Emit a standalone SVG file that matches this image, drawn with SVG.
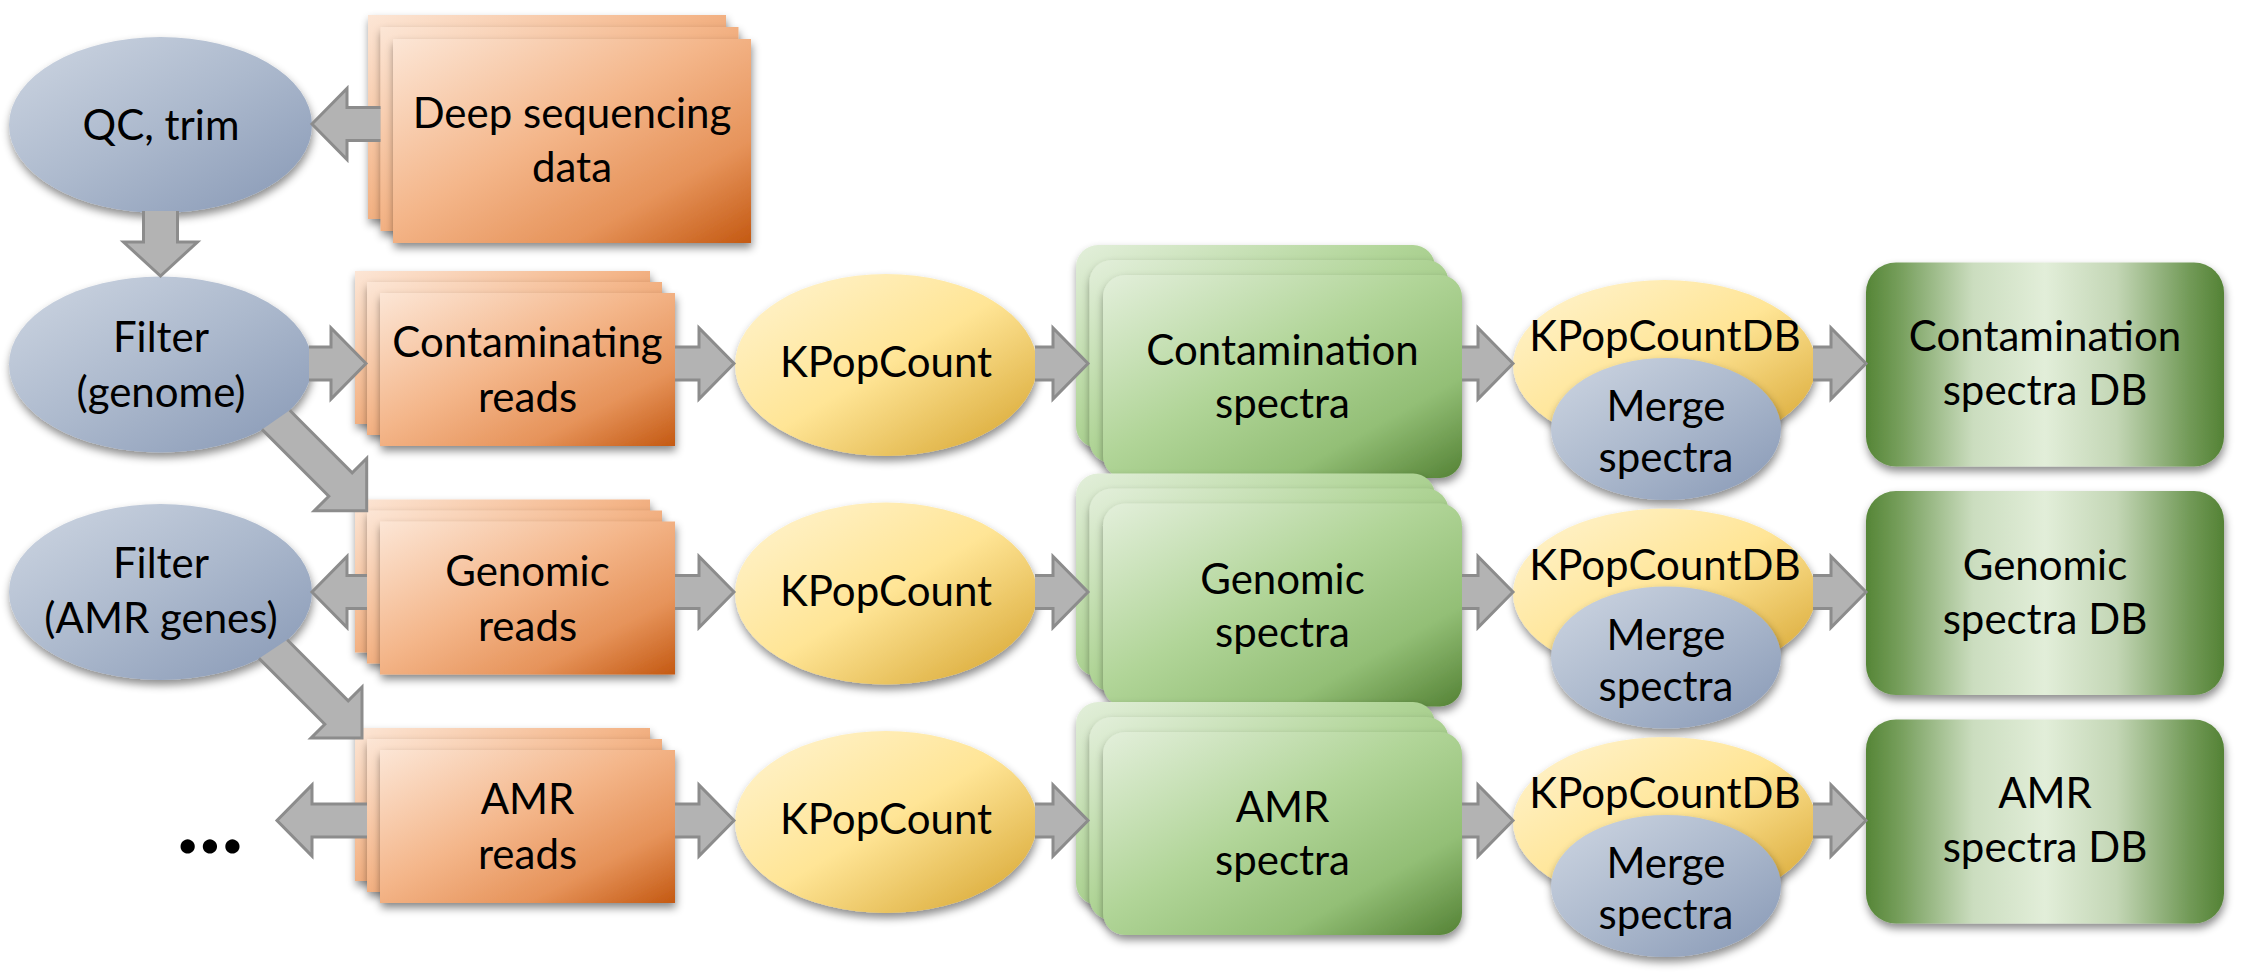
<svg xmlns="http://www.w3.org/2000/svg" width="2244" height="976" viewBox="0 0 2244 976">
<defs>
<linearGradient id="gBlue" x1="0" y1="0" x2="1" y2="1">
<stop offset="0" stop-color="#ced6e2"/><stop offset="0.5" stop-color="#acb9cd"/><stop offset="1" stop-color="#8798b5"/>
</linearGradient>
<linearGradient id="gOrange" x1="0" y1="0" x2="1" y2="1">
<stop offset="0" stop-color="#fce6d6"/><stop offset="0.45" stop-color="#f4b68a"/><stop offset="0.75" stop-color="#e6935a"/><stop offset="1" stop-color="#c45912"/>
</linearGradient>
<linearGradient id="gYellow" x1="0" y1="0" x2="1" y2="1">
<stop offset="0" stop-color="#fff4d2"/><stop offset="0.5" stop-color="#ffe596"/><stop offset="1" stop-color="#d4a12a"/>
</linearGradient>
<linearGradient id="gGreen" x1="0" y1="0" x2="1" y2="1">
<stop offset="0" stop-color="#e3efdb"/><stop offset="0.45" stop-color="#b1d598"/><stop offset="0.75" stop-color="#93bf76"/><stop offset="1" stop-color="#548235"/>
</linearGradient>
<linearGradient id="gDB" x1="0" y1="0" x2="1" y2="0">
<stop offset="0" stop-color="#558536"/><stop offset="0.1" stop-color="#78a05e"/><stop offset="0.3" stop-color="#cbddbf"/><stop offset="0.5" stop-color="#e2eed9"/><stop offset="0.7" stop-color="#c3d6b5"/><stop offset="0.9" stop-color="#739b59"/><stop offset="1" stop-color="#548235"/>
</linearGradient>
<filter id="sh" x="-15%" y="-15%" width="130%" height="140%">
<feDropShadow dx="1" dy="5" stdDeviation="4" flood-color="#000" flood-opacity="0.45"/>
</filter>
</defs>
<style>
.ar{fill:#b3b3b3;stroke:#8c8c8c;stroke-width:3;stroke-linejoin:miter}
.bl{fill:url(#gBlue);filter:url(#sh)}
.or{fill:url(#gOrange);filter:url(#sh)}
.ye{fill:url(#gYellow);filter:url(#sh)}
.gr{fill:url(#gGreen);filter:url(#sh)}
.db{fill:url(#gDB);filter:url(#sh)}
text{font-family:Lato,"Liberation Sans",sans-serif;font-size:42px;fill:#000;text-anchor:middle}
.dots{font-weight:700;font-size:94px}
</style>
<rect width="2244" height="976" fill="#fff"/>

<g id="qc">
<ellipse class="bl" cx="160.5" cy="125" rx="151.5" ry="88"/>
<text x="161" y="140">QC, trim</text>
</g>
<g id="deep">
<rect class="or" x="368" y="15" width="358" height="204"/>
<rect class="or" x="380.5" y="27" width="358" height="204"/>
<rect class="or" x="393" y="39" width="358" height="204"/>
<text x="572" y="128">Deep sequencing</text>
<text x="572" y="182">data</text>
</g>
<g id="filter-genome">
<ellipse class="bl" cx="160.5" cy="364.5" rx="151.5" ry="88"/>
<text x="161" y="352">Filter</text>
<text x="161" y="407">(genome)</text>
</g>
<g id="filter-amr">
<ellipse class="bl" cx="160.5" cy="592" rx="151.5" ry="88"/>
<text x="161" y="578">Filter</text>
<text x="161" y="633">(AMR genes)</text>
</g>
<g id="dots">
<text class="dots" x="210" y="853">...</text>
</g>

<g id="contam-reads">
<rect class="or" x="355" y="271" width="295" height="153"/>
<rect class="or" x="367" y="282" width="295" height="153"/>
<rect class="or" x="380" y="293" width="295" height="153"/>
<text x="527.5" y="357">Contaminating</text>
<text x="527.5" y="412">reads</text>
</g>
<g id="genomic-reads">
<rect class="or" x="355" y="499.5" width="295" height="153"/>
<rect class="or" x="367" y="510.5" width="295" height="153"/>
<rect class="or" x="380" y="521.5" width="295" height="153"/>
<text x="527.5" y="585.5">Genomic</text>
<text x="527.5" y="640.5">reads</text>
</g>
<g id="amr-reads">
<rect class="or" x="355" y="728" width="295" height="153"/>
<rect class="or" x="367" y="739" width="295" height="153"/>
<rect class="or" x="380" y="750" width="295" height="153"/>
<text x="527.5" y="814">AMR</text>
<text x="527.5" y="869">reads</text>
</g>

<g id="kpop1">
<ellipse class="ye" cx="886" cy="365" rx="151" ry="91"/>
<text x="886" y="377">KPopCount</text>
</g>
<g id="kpop2">
<ellipse class="ye" cx="886" cy="593.5" rx="151" ry="91"/>
<text x="886" y="605.5">KPopCount</text>
</g>
<g id="kpop3">
<ellipse class="ye" cx="886" cy="822" rx="151" ry="91"/>
<text x="886" y="834">KPopCount</text>
</g>

<g id="contam-spectra">
<rect class="gr" x="1076" y="245" width="359" height="203" rx="22"/>
<rect class="gr" x="1089.5" y="260" width="359" height="203" rx="22"/>
<rect class="gr" x="1103" y="275" width="359" height="203" rx="22"/>
<text x="1282.5" y="365">Contamination</text>
<text x="1282.5" y="418">spectra</text>
</g>
<g id="genomic-spectra">
<rect class="gr" x="1076" y="473.5" width="359" height="203" rx="22"/>
<rect class="gr" x="1089.5" y="488.5" width="359" height="203" rx="22"/>
<rect class="gr" x="1103" y="503.5" width="359" height="203" rx="22"/>
<text x="1282.5" y="593.5">Genomic</text>
<text x="1282.5" y="646.5">spectra</text>
</g>
<g id="amr-spectra">
<rect class="gr" x="1076" y="702" width="359" height="203" rx="22"/>
<rect class="gr" x="1089.5" y="717" width="359" height="203" rx="22"/>
<rect class="gr" x="1103" y="732" width="359" height="203" rx="22"/>
<text x="1282.5" y="822">AMR</text>
<text x="1282.5" y="875">spectra</text>
</g>

<g id="kpopdb1">
<ellipse class="ye" cx="1664.5" cy="365" rx="151.5" ry="85"/>
<text x="1665" y="351">KPopCountDB</text>
<ellipse class="bl" cx="1666" cy="429" rx="115" ry="71"/>
<text x="1666" y="421">Merge</text>
<text x="1666" y="472">spectra</text>
</g>
<g id="kpopdb2">
<ellipse class="ye" cx="1664.5" cy="593.5" rx="151.5" ry="85"/>
<text x="1665" y="579.5">KPopCountDB</text>
<ellipse class="bl" cx="1666" cy="657.5" rx="115" ry="71"/>
<text x="1666" y="649.5">Merge</text>
<text x="1666" y="700.5">spectra</text>
</g>
<g id="kpopdb3">
<ellipse class="ye" cx="1664.5" cy="822" rx="151.5" ry="85"/>
<text x="1665" y="808">KPopCountDB</text>
<ellipse class="bl" cx="1666" cy="886" rx="115" ry="71"/>
<text x="1666" y="878">Merge</text>
<text x="1666" y="929">spectra</text>
</g>

<g id="contam-db">
<rect class="db" x="1866" y="262.5" width="358" height="204" rx="30"/>
<text x="2045" y="351">Contamination</text>
<text x="2045" y="405">spectra DB</text>
</g>
<g id="genomic-db">
<rect class="db" x="1866" y="491" width="358" height="204" rx="30"/>
<text x="2045" y="579.5">Genomic</text>
<text x="2045" y="633.5">spectra DB</text>
</g>
<g id="amr-db">
<rect class="db" x="1866" y="719.5" width="358" height="204" rx="30"/>
<text x="2045" y="808">AMR</text>
<text x="2045" y="862">spectra DB</text>
</g>

<g id="connectors">
<path class="ar" d="M380.5,107.5 L347,107.5 L347,88.5 L312,124 L347,159.5 L347,140.5 L380.5,140.5"/>
<path class="ar" d="M143.5,211 L143.5,242 L123.5,242 L160.5,276 L197.5,242 L177.5,242 L177.5,211"/>
<path class="ar" d="M262,429.4 L328.8,496.2 L314.3,510.7 L366.7,510.7 L366.7,458.3 L352.2,472.8 L289.7,410.3"/>
<path class="ar" d="M259,658.4 L324.8,724.2 L311,738 L362,738 L362,687 L348.2,700.8 L287.2,639.8"/>
<path class="ar" d="M309,347 L331,347 L331,328 L366,363.5 L331,399 L331,380 L309,380"/>
<path class="ar" d="M675,347 L699,347 L699,328 L734,363.5 L699,399 L699,380 L675,380"/>
<path class="ar" d="M1035,347 L1053,347 L1053,328 L1088,363.5 L1053,399 L1053,380 L1035,380"/>
<path class="ar" d="M1462,347 L1478,347 L1478,328 L1513,363.5 L1478,399 L1478,380 L1462,380"/>
<path class="ar" d="M1813,347 L1831,347 L1831,328 L1866,363.5 L1831,399 L1831,380 L1813,380"/>
<path class="ar" d="M367,575.5 L347,575.5 L347,556.5 L312,592 L347,627.5 L347,608.5 L367,608.5"/>
<path class="ar" d="M675,575.5 L699,575.5 L699,556.5 L734,592 L699,627.5 L699,608.5 L675,608.5"/>
<path class="ar" d="M1035,575.5 L1053,575.5 L1053,556.5 L1088,592 L1053,627.5 L1053,608.5 L1035,608.5"/>
<path class="ar" d="M1462,575.5 L1478,575.5 L1478,556.5 L1513,592 L1478,627.5 L1478,608.5 L1462,608.5"/>
<path class="ar" d="M1813,575.5 L1831,575.5 L1831,556.5 L1866,592 L1831,627.5 L1831,608.5 L1813,608.5"/>
<path class="ar" d="M367,804 L312,804 L312,785 L277,820.5 L312,856 L312,837 L367,837"/>
<path class="ar" d="M675,804 L699,804 L699,785 L734,820.5 L699,856 L699,837 L675,837"/>
<path class="ar" d="M1035,804 L1053,804 L1053,785 L1088,820.5 L1053,856 L1053,837 L1035,837"/>
<path class="ar" d="M1462,804 L1478,804 L1478,785 L1513,820.5 L1478,856 L1478,837 L1462,837"/>
<path class="ar" d="M1813,804 L1831,804 L1831,785 L1866,820.5 L1831,856 L1831,837 L1813,837"/>
</g>
</svg>
